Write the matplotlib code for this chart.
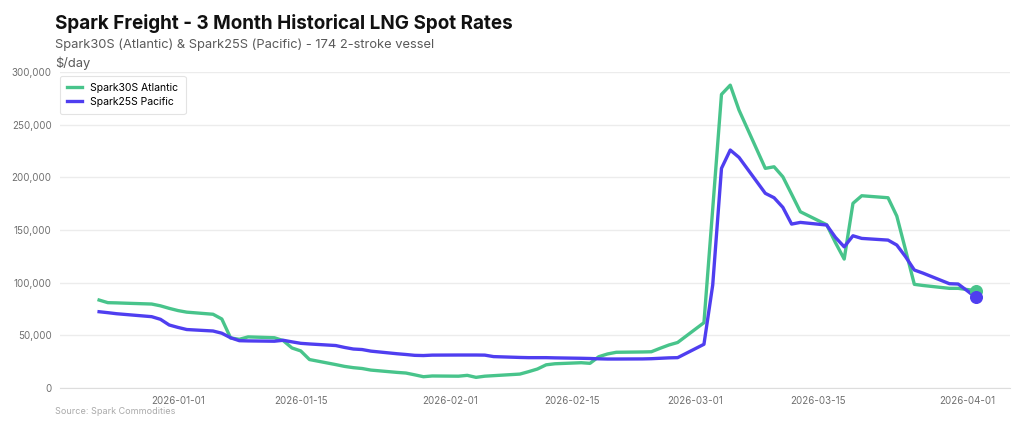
# Spark freight spot rates, last 3 months

import numpy as np
import pandas as pd
import matplotlib
matplotlib.use("Agg")
import matplotlib.pyplot as plt
import matplotlib.dates as mdates

dates = ["2025-12-23", "2025-12-24", "2025-12-25", "2025-12-26",
         "2025-12-29", "2025-12-30", "2025-12-31", "2026-01-01", "2026-01-02",
         "2026-01-05", "2026-01-06", "2026-01-07", "2026-01-08", "2026-01-09",
         "2026-01-12", "2026-01-13", "2026-01-14", "2026-01-15", "2026-01-16",
         "2026-01-19", "2026-01-20", "2026-01-21", "2026-01-22", "2026-01-23",
         "2026-01-26", "2026-01-27", "2026-01-28", "2026-01-29", "2026-01-30",
         "2026-02-02", "2026-02-03", "2026-02-04", "2026-02-05", "2026-02-06",
         "2026-02-09", "2026-02-10", "2026-02-11", "2026-02-12", "2026-02-13",
         "2026-02-16", "2026-02-17", "2026-02-18", "2026-02-19", "2026-02-20",
         "2026-02-23", "2026-02-24", "2026-02-25", "2026-02-26", "2026-02-27",
         "2026-03-02", "2026-03-03", "2026-03-04", "2026-03-05", "2026-03-06",
         "2026-03-09", "2026-03-10", "2026-03-11", "2026-03-12", "2026-03-13",
         "2026-03-16", "2026-03-17", "2026-03-18", "2026-03-19", "2026-03-20",
         "2026-03-23", "2026-03-24", "2026-03-25", "2026-03-26", "2026-03-27",
         "2026-03-30", "2026-03-31", "2026-04-01", "2026-04-02"]

spark30s = [83500, 81000, 80800, 80500,
            79700, 78000, 75600, 73500, 72000,
            70000, 65500, 47500, 46200, 48500,
            47700, 45000, 38000, 35200, 27000,
            22200, 20500, 19300, 18500, 17000,
            14800, 14200, 12500, 10700, 11400,
            11200, 12000, 10100, 11200, 11700,
            13200, 15500, 18000, 22000, 23000,
            24000, 23400, 29700, 32300, 33900,
            34200, 34400, 37700, 40800, 43200,
            62000, 170000, 278700, 287500, 263800,
            208500, 210000, 200500, 184000, 167300,
            155000, 138000, 122400, 175300, 182500,
            180600, 163200, 131000, 98400, 97300,
            94600, 94600, 93500, 92500]

spark25s = [72400, 71500, 70500, 69800,
            67700, 65200, 59800, 57500, 55500,
            54100, 52000, 47700, 44900, 44700,
            44400, 45300, 43800, 42400, 41800,
            40300, 38500, 37000, 36500, 35000,
            32500, 31800, 31000, 30800, 31200,
            31300, 31300, 31300, 31200, 29800,
            29000, 28800, 28800, 28800, 28600,
            28200, 28000, 27700, 27500, 27500,
            27600, 27800, 28200, 28600, 28800,
            41500, 97700, 208500, 225900, 218900,
            184800, 180600, 171500, 155600, 157200,
            154700, 143000, 134000, 144500, 142000,
            140400, 135700, 124600, 112000, 109000,
            99000, 98700, 92500, 86000]

tick_dates = ["2026-01-01", "2026-01-15", "2026-02-01", "2026-02-15",
              "2026-03-01", "2026-03-15", "2026-04-01"]

green = "#48C48B"
blue = "#4F3EF0"

plt.rcParams['font.family'] = ['Inter', 'DejaVu Sans']

x = pd.to_datetime(dates)

fig = plt.figure(figsize=(10.24, 4.3), dpi=100)
ax = fig.add_axes([0.0586, 0.0977, 0.9274, 0.7349])

ax.plot(x, spark30s, color=green, lw=2.4, label="Spark30S Atlantic", zorder=3)
ax.plot(x, spark25s, color=blue, lw=2.4, label="Spark25S Pacific", zorder=4)
ax.scatter([x[-1]], [spark30s[-1]], s=70, color=green, zorder=5)
ax.scatter([x[-1]], [spark25s[-1]], s=70, color=blue, zorder=6)

ax.set_ylim(0, 300000)
ax.set_xlim(pd.Timestamp("2025-12-18 13:00"), pd.Timestamp("2026-04-05 21:00"))
ax.set_yticks(np.arange(0, 300001, 50000))
ax.yaxis.set_major_formatter(matplotlib.ticker.FuncFormatter(lambda v, p: f"{int(v):,}"))
ax.set_xticks(pd.to_datetime(tick_dates))
ax.xaxis.set_major_formatter(mdates.DateFormatter("%Y-%m-%d"))

ax.grid(axis="y", color="#ececec", lw=1)
ax.set_axisbelow(True)
for s in ["top", "right", "left"]:
    ax.spines[s].set_visible(False)
ax.spines["bottom"].set_color("#dddddd")
ax.tick_params(axis="both", length=0, labelsize=7, labelcolor="#707070", pad=6)

leg = ax.legend(loc="upper left", bbox_to_anchor=(0.0, 0.988), fontsize=7.5,
                frameon=True, handlelength=1.4, borderpad=0.7, labelspacing=0.35,
                borderaxespad=0.0, handletextpad=0.8)
leg.get_frame().set_edgecolor("#dddddd")
leg.get_frame().set_linewidth(0.8)

fig.text(0.054, 0.945, "Spark Freight - 3 Month Historical LNG Spot Rates",
         fontsize=13.6, fontweight="bold", color="#111111", va="center")
fig.text(0.054, 0.895, "Spark30S (Atlantic) & Spark25S (Pacific) - 174 2-stroke vessel",
         fontsize=9.3, color="#5a5a5a", va="center")
fig.text(0.054, 0.852, "$/day", fontsize=9.3, color="#5a5a5a", va="center")
fig.text(0.054, 0.043, "Source: Spark Commodities", fontsize=6.5, color="#aaaaaa", va="center")

fig.savefig("out.png", dpi=100)
